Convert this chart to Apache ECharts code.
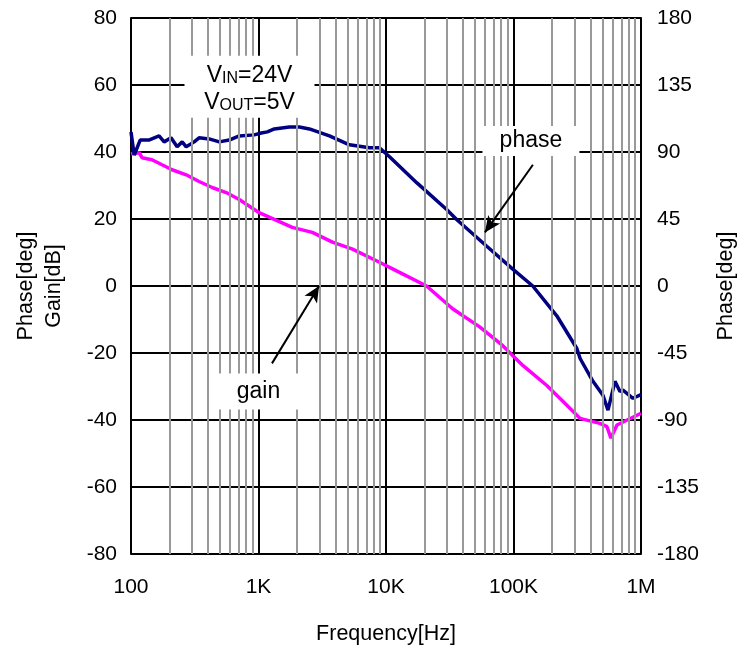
<!DOCTYPE html>
<html>
<head>
<meta charset="utf-8">
<script src="https://cdn.jsdelivr.net/npm/echarts@6/dist/echarts.min.js"></script>
<style>
html, body { margin: 0; padding: 0; background: #fff; }
#chart { width: 744px; height: 646px; }
</style>
</head>
<body>
<div id="chart"></div>
<script>
// frequency [Hz] / phase [deg]
const phaseFreq = [100, 106, 118, 138, 166, 182, 206, 230, 252, 271, 313, 342, 410, 492, 589, 706, 926, 1052, 1173, 1331, 1746, 2091, 2506, 3600, 5170, 7420, 8890, 10660, 17400, 29900, 35800, 61700, 98700, 141600, 218500, 314000, 333000, 420000, 503000, 551000, 625000, 684000, 722000, 865000, 1000000];
const phaseDeg = [103.5, 88, 98, 98, 100.8, 96.8, 99.5, 93.5, 96.8, 93.5, 96.8, 99.5, 98.8, 96.8, 98, 100.8, 101.5, 102.8, 103.5, 105.5, 106.8, 106.8, 105.5, 100.8, 94.8, 92.8, 92.8, 86.8, 69.4, 51.4, 44.7, 26.7, 11.3, 0, -20, -42, -48.7, -64, -73.4, -83.4, -64, -70.8, -70, -75.4, -73];

// frequency [Hz] / gain [dB]
const gainFreq = [100, 116, 122, 146, 175, 210, 271, 342, 433, 558, 706, 1000, 1841, 2644, 3800, 5460, 8890, 12100, 20800, 33300, 54300, 82400, 118300, 182500, 243700, 331700, 476000, 541000, 581000, 648000, 1000000];
const gainDb = [39.5, 39.8, 38.3, 37.7, 36.2, 34.7, 33.2, 31.2, 29.4, 27.9, 25.8, 22, 17.5, 16, 13.1, 11, 7.1, 4.5, 0, -6.8, -12.2, -17.8, -23.7, -29.7, -34.4, -39.5, -41, -42, -45.4, -41.5, -38];

const xTickLabels = { 100: '100', 1000: '1K', 10000: '10K', 100000: '100K', 1000000: '1M' };

const fontFamily = '"Liberation Sans", Arial, sans-serif';

// minor vertical grid lines at 2..9 of each decade
const minorGrid = [];
for (let d = 100; d < 1000000; d *= 10) {
  for (let k = 2; k <= 9; k++) minorGrid.push(d * k);
}

const chart = echarts.init(document.getElementById('chart'));

const option = {
  animation: false,
  backgroundColor: '#fff',
  textStyle: { fontFamily },
  grid: { left: 131, right: 103, top: 18, bottom: 92, containLabel: false, outerBoundsMode: 'none' },
  xAxis: {
    type: 'log',
    logBase: 10,
    min: 100,
    max: 1000000,
    name: 'Frequency[Hz]',
    nameLocation: 'middle',
    nameGap: 69,
    nameTextStyle: { fontSize: 21.5, color: '#000', fontFamily },
    axisLine: { lineStyle: { color: '#000', width: 2 } },
    axisTick: { show: false },
    axisLabel: {
      fontSize: 21,
      color: '#000',
      fontFamily,
      margin: 23,
      showMinLabel: true,
      showMaxLabel: true,
      formatter: v => xTickLabels[Math.round(v)] || ''
    },
    splitLine: { show: true, lineStyle: { color: '#000', width: 2 } },
    minorTick: { show: false },
    minorSplitLine: { show: false }
  },
  yAxis: [
    {
      type: 'value',
      min: -80,
      max: 80,
      interval: 20,
      name: 'Phase[deg]\nGain[dB]',
      nameLocation: 'middle',
      nameRotate: 90,
      nameGap: 63,
      nameTextStyle: { fontSize: 21.5, color: '#000', lineHeight: 28, fontFamily },
      axisLine: { show: true, lineStyle: { color: '#000', width: 2 } },
      axisTick: { show: false },
      axisLabel: { fontSize: 21, color: '#000', fontFamily, margin: 14, showMinLabel: true, showMaxLabel: true },
      splitLine: { show: true, lineStyle: { color: '#000', width: 2 } }
    },
    {
      type: 'value',
      min: -180,
      max: 180,
      interval: 45,
      position: 'right',
      name: 'Phase[deg]',
      nameLocation: 'middle',
      nameRotate: 90,
      nameGap: 74,
      nameTextStyle: { fontSize: 21.5, color: '#000', fontFamily },
      axisLine: { show: true, lineStyle: { color: '#000', width: 2 } },
      axisTick: { show: false },
      axisLabel: { fontSize: 21, color: '#000', fontFamily, margin: 16, showMinLabel: true, showMaxLabel: true },
      splitLine: { show: false }
    }
  ],
  series: [
    {
      name: 'minorGrid',
      type: 'line',
      z: 1,
      data: [],
      silent: true,
      markLine: {
        silent: true,
        symbol: ['none', 'none'],
        label: { show: false },
        lineStyle: { color: '#999', width: 2, type: 'solid' },
        emphasis: { disabled: true },
        data: minorGrid.map(f => ({ xAxis: f }))
      }
    },
    {
      name: 'gain',
      type: 'line',
      z: 3,
      yAxisIndex: 0,
      symbol: 'none',
      lineStyle: { color: '#ff00ff', width: 3.5 },
      itemStyle: { color: '#ff00ff' },
      data: gainFreq.map((f, i) => [f, gainDb[i]]),
      markLine: {
        silent: true,
        symbol: ['none', 'arrow'],
        symbolSize: [11, 16],
        label: { show: false },
        lineStyle: { color: '#000', width: 2, type: 'solid' },
        itemStyle: { color: '#000' },
        emphasis: { disabled: true },
        data: [
          [{ coord: [142000, 36.2] }, { coord: [59700, 16] }],
          [{ coord: [1276, -23.1] }, { coord: [2985, 0] }]
        ]
      }
    },
    {
      name: 'phase',
      type: 'line',
      z: 4,
      yAxisIndex: 1,
      symbol: 'none',
      lineStyle: { color: '#000080', width: 3.5 },
      itemStyle: { color: '#000080' },
      data: phaseFreq.map((f, i) => [f, phaseDeg[i]])
    }
  ]
};

chart.setOption(option);

// text boxes, anchored in data space (x: Hz, y: left axis dB)
function box(at, w, h, text, rich) {
  const p = chart.convertToPixel({ xAxisIndex: 0, yAxisIndex: 0 }, at);
  return {
    type: 'group',
    x: p[0],
    y: p[1],
    children: [
      {
        type: 'rect',
        z: 50,
        shape: { x: -w / 2, y: -h / 2, width: w, height: h },
        style: { fill: '#fff' }
      },
      {
        type: 'text',
        z: 51,
        style: {
          text,
          x: 0,
          y: 0,
          align: 'center',
          verticalAlign: 'middle',
          fontSize: 23,
          fontFamily,
          fill: '#000',
          lineHeight: 27,
          rich
        }
      }
    ]
  };
}

const vinRich = {
  b: { fontSize: 23, fontFamily, fill: '#000', lineHeight: 27, verticalAlign: 'bottom' },
  s: { fontSize: 16, fontFamily, fill: '#000', lineHeight: 22, verticalAlign: 'bottom' }
};

chart.setOption({
  graphic: [
    box([850, 59.5], 130, 62, '{b|V}{s|IN}{b|=24V}\n{b|V}{s|OUT}{b|=5V}', vinRich),
    box([137000, 43.3], 97, 30, 'phase'),
    box([1000, -31.5], 80, 36, 'gain')
  ]
});
</script>
</body>
</html>
